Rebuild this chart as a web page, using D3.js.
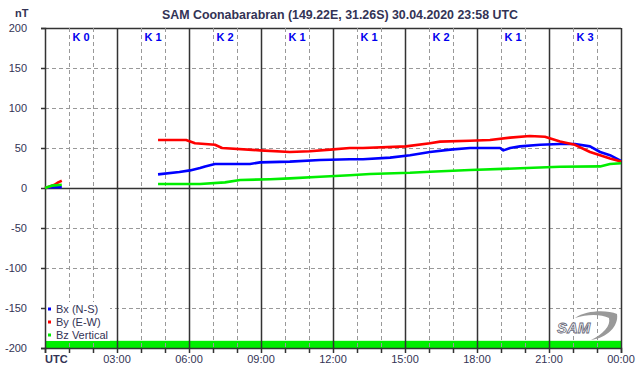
<!DOCTYPE html>
<html><head><meta charset="utf-8">
<script src="https://cdn.jsdelivr.net/npm/d3@7"></script>
<style>
body{margin:0;background:#fff;}
text{font-family:Arial,"Liberation Sans",sans-serif;}
</style></head>
<body><svg id="c" width="642" height="376"></svg>
<script>
const title = "SAM Coonabarabran (149.22E, 31.26S) 30.04.2020 23:58 UTC";
const yTicks = [200,150,100,50,0,-50,-100,-150,-200];
const xTickLabels = ["UTC","03:00","06:00","09:00","12:00","15:00","18:00","21:00","00:00"];
const kIndex = ["K 0","K 1","K 2","K 1","K 1","K 2","K 1","K 3"];
const legendNames = ["Bx (N-S)","By (E-W)","Bz Vertical"];
const seriesColors = ["#0000ff","#ff0000","#00ee00"];
// [hour, nT] segments
const bx = [
 [[0,0],[0.3,1],[0.7,1]],
 [[4.71,17],[5.6,20],[6.04,22],[6.46,25],[6.67,27],[7.08,30],[8.54,30],[8.96,32],[10.2,33],[11.46,35],[12.7,36],[13.25,36],[14.38,38],[15.21,41],[16.04,45],[16.88,48],[17.71,50],[18.96,50],[19.1,47],[19.38,50],[19.79,52],[20.63,54],[21.46,55],[22.08,55],[22.71,52],[23.13,45],[23.54,41],[24,34]]
];
const by = [
 [[0,0],[0.2,2],[0.4,4],[0.55,7],[0.7,9]],
 [[4.71,60],[5.88,60],[6.25,56],[7.08,54],[7.38,50],[8.96,47],[10.2,45],[11.04,46],[11.88,48],[12.7,50],[13.25,50],[15.04,52],[16.04,56],[16.46,58],[17.7,59],[18.54,60],[19.38,63],[20.2,65],[20.83,64],[21.46,58],[22.08,54],[22.71,45],[23.13,41],[23.54,37],[24,33]]
];
const bz = [
 [[0,0],[0.3,3],[0.7,4]],
 [[4.71,5],[6.46,5],[7.5,7],[8.13,10],[9.38,11],[10.2,12],[11.46,14],[12.7,16],[13.54,17.5],[15.21,19],[16.04,20.4],[17.71,22.5],[19.79,24.6],[21.46,26.6],[23.13,27],[23.54,30],[24,31]]
];
const allSeries = [bx, by, bz];

const svg = d3.select("#c");
const L=45, R=621, T=28, B=348;
const x = d3.scaleLinear().domain([0,24]).range([L,R]);
const y = d3.scaleLinear().domain([-200,200]).range([B,T]);
const txt = "#333355", grid="#999", axc="#333";

svg.append("text").attr("x",340).attr("y",19).attr("text-anchor","middle")
  .attr("font-size",12.4).attr("font-weight","bold").attr("fill",txt).text(title);
svg.append("text").attr("x",15).attr("y",17).attr("font-size",11).attr("font-weight","bold").attr("fill",txt).text("nT");

// green band
svg.append("rect").attr("x",L).attr("y",y(-191)).attr("width",R-L).attr("height",y(-200)-y(-191)).attr("fill","#00ee00");

// horizontal grid
yTicks.forEach(v=>{
  const solid = (v===0||v===200);
  if(v===-200) return;
  svg.append("line").attr("x1",L).attr("x2",R).attr("y1",y(v)+0.5).attr("y2",y(v)+0.5)
    .attr("stroke",solid?axc:grid).attr("stroke-width",solid?1.5:1)
    .attr("stroke-dasharray",solid?null:"4,3");
});
// vertical grid
d3.range(1,25).forEach(h=>{
  const solid = h%3===0;
  svg.append("line").attr("x1",Math.round(x(h))+0.5).attr("x2",Math.round(x(h))+0.5).attr("y1",T).attr("y2",B)
    .attr("stroke",solid?axc:grid).attr("stroke-width",solid?1.5:1)
    .attr("stroke-dasharray",solid?null:"4,3");
});

// legend background
svg.append("rect").attr("x",L+1).attr("y",302).attr("width",64).attr("height",y(-191)-302).attr("fill","#fff");

// axes
const xAxis = d3.axisBottom(x).tickValues(d3.range(0,25)).tickSize(5).tickFormat("");
const gx = svg.append("g").attr("transform",`translate(0,${B})`).call(xAxis);
gx.select(".domain").attr("stroke",axc).attr("stroke-width",1.5);
gx.selectAll(".tick line").attr("stroke",axc).attr("stroke-width",1.5);
xTickLabels.forEach((t,i)=>{
  svg.append("text").attr("x",i===0?L:x(i*3)).attr("y",363).attr("font-size",11)
   .attr("text-anchor",i===0?"start":"middle").attr("fill",txt)
   .attr("font-weight",i===0?"bold":null).text(t);
});
const yAxis = d3.axisLeft(y).tickValues(yTicks).tickSize(4).tickFormat("");
const gy = svg.append("g").attr("transform",`translate(${L},0)`).call(yAxis);
gy.select(".domain").attr("stroke",axc).attr("stroke-width",1.5);
gy.selectAll(".tick line").attr("stroke",axc).attr("stroke-width",1.5);
yTicks.forEach(v=>{
  svg.append("text").attr("x",27).attr("y",y(v)+4).attr("font-size",11).attr("text-anchor","end").attr("fill",txt).text(v);
});

// K labels
kIndex.forEach((k,i)=>{
  svg.append("text").attr("x",x(i*3+1.5)).attr("y",41).attr("text-anchor","middle")
    .attr("font-size",11).attr("font-weight","bold").attr("fill","#0000ee").text(k);
});

// data lines
const line = d3.line().x(d=>x(d[0])).y(d=>y(d[1]));
allSeries.forEach((segs,i)=>{
  segs.forEach(seg=>{
    svg.append("path").attr("d",line(seg)).attr("fill","none").attr("stroke",seriesColors[i])
      .attr("stroke-width",2.6).attr("stroke-linejoin","round");
  });
});

// legend
legendNames.forEach((n,i)=>{
  const yy = 309 + i*13;
  svg.append("rect").attr("x",48).attr("y",yy-1.5).attr("width",3).attr("height",3).attr("fill",seriesColors[i]);
  svg.append("text").attr("x",56).attr("y",yy+4).attr("font-size",11).attr("fill",txt).text(n);
});

// logo
const lg = svg.append("g").attr("transform","translate(557,312)");
lg.append("path").attr("d","M18,6 C30,-2 50,-2 60,2 C62,14 50,26 34,28 C46,22 54,14 52,6 C44,2 30,2 18,6 Z").attr("fill","#999");
lg.append("text").attr("x",0).attr("y",21).attr("font-size",15).attr("font-style","italic").attr("font-weight","bold")
  .attr("fill","#fff").attr("stroke","#667").attr("stroke-width",0.8).text("SAM");
</script></body></html>
